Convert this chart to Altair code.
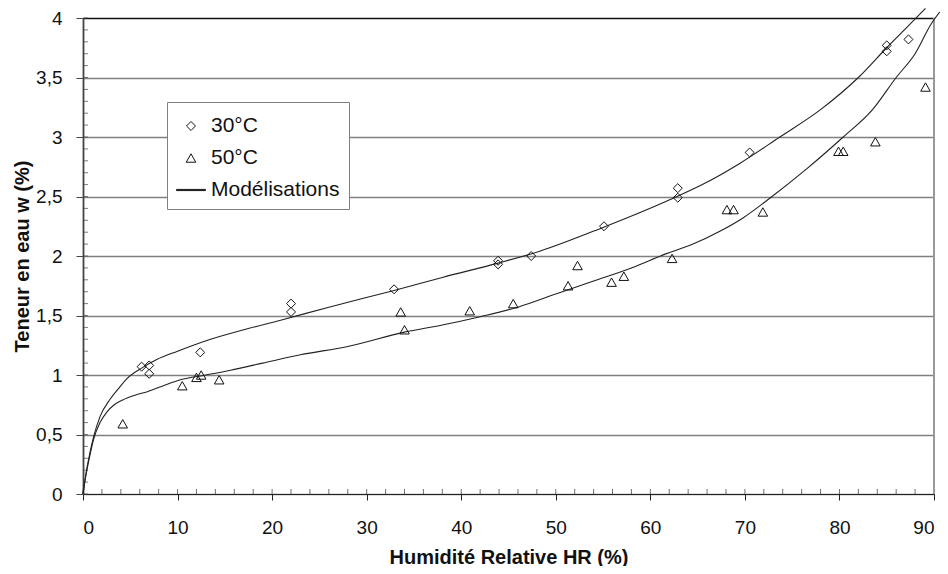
import altair as alt
import pandas as pd

# ---- data ----
hr_30 = [6.2, 7.0, 7.0, 12.4, 22.0, 22.0, 32.9, 43.9, 43.9, 47.4, 55.1, 62.9, 62.9, 70.5, 85.0, 85.0, 87.3]
w_30 = [1.07, 1.08, 1.01, 1.19, 1.60, 1.53, 1.72, 1.96, 1.93, 2.00, 2.25, 2.57, 2.49, 2.87, 3.77, 3.72, 3.82]

hr_50 = [4.2, 10.5, 12.0, 12.5, 14.4, 33.6, 34.0, 40.9, 45.5, 51.3, 52.3, 55.9, 57.2, 62.3,
         68.1, 68.8, 71.9, 79.9, 80.4, 83.8, 89.1]
w_50 = [0.59, 0.91, 0.98, 1.00, 0.96, 1.53, 1.38, 1.54, 1.60, 1.75, 1.92, 1.78, 1.83, 1.98,
        2.39, 2.39, 2.37, 2.88, 2.88, 2.96, 3.42]

model_30_hr = [0, 0.25, 0.77, 1.12, 1.8, 2.9, 3.9, 4.65, 6.24, 7.8, 10, 13.1, 17, 20.9, 26, 32.9,
               38, 43.9, 48.3, 55, 61.7, 65.5, 69.5, 73.7, 78, 82, 85, 87, 89.1]
model_30_w = [0, 0.14, 0.36, 0.48, 0.65, 0.80, 0.9, 0.97, 1.06, 1.13, 1.2, 1.29, 1.38, 1.46, 1.57, 1.71,
              1.82, 1.94, 2.04, 2.24, 2.46, 2.6, 2.78, 3.0, 3.23, 3.5, 3.75, 3.91, 4.08]

model_50_hr = [0, 0.25, 0.77, 1.12, 1.8, 2.54, 3.3, 4.2, 5.5, 6.8, 8.5, 10.3, 13, 15.6, 19, 23, 28, 34,
               38, 42, 46, 50, 54, 58, 61.7, 64.5, 67.4, 69.8, 72.7, 76.5, 80.4, 83.5, 86, 88, 89.7, 90.6]
model_50_w = [0, 0.13, 0.34, 0.46, 0.6, 0.69, 0.75, 0.79, 0.83, 0.86, 0.91, 0.96, 1.0, 1.04, 1.1, 1.17, 1.24, 1.36,
              1.42, 1.49, 1.57, 1.68, 1.79, 1.9, 2.02, 2.1, 2.21, 2.32, 2.49, 2.73, 3.0, 3.23, 3.5, 3.7, 3.95, 4.05]

legend_labels = ["30°C", "50°C", "Modélisations"]
x_major = list(range(0, 91, 10))
x_minor = list(range(0, 91, 2))
y_major = [0, 0.5, 1, 1.5, 2, 2.5, 3, 3.5, 4]
y_minor = [round(i * 0.1, 1) for i in range(0, 41)]

# ---- tables ----
points = pd.DataFrame({
    "hr": hr_30 + hr_50,
    "w": w_30 + w_50,
    "serie": [legend_labels[0]] * len(hr_30) + [legend_labels[1]] * len(hr_50),
})
curves = pd.DataFrame({
    "hr": model_30_hr + model_50_hr,
    "w": model_30_w + model_50_w,
    "curve": ["30"] * len(model_30_hr) + ["50"] * len(model_50_hr),
    "order": list(range(len(model_30_hr))) + list(range(len(model_50_hr))),
})
xminor_df = pd.DataFrame({"hr": x_minor})
yminor_df = pd.DataFrame({"w": y_minor})
border_df = pd.DataFrame({"hr": [90]})

FONT = "Liberation Sans"
xscale = alt.Scale(domain=[0, 90], nice=False, zero=False)
yscale = alt.Scale(domain=[0, 4], nice=False, zero=False)

x_axis = alt.Axis(
    values=x_major, title="Humidité Relative HR (%)", grid=False,
    tickSize=6, tickColor="#222", domainColor="#222", domainWidth=1.2,
    labelPadding=18, titlePadding=10,
)
y_axis = alt.Axis(
    values=y_major, title="Teneur en eau w (%)", grid=True,
    gridColor={"condition": {"test": "datum.value === 4", "value": "#111"}, "value": "#808080"},
    gridWidth=1.4, tickSize=7, tickColor="#444", domainColor="#444", domainWidth=1.8,
    labelPadding=14, titlePadding=3,
    labelExpr="replace(format(datum.value, '~g'), '.', ',')",
)

shape_paths = [
    "M-0.31,0L0,-0.31L0.31,0L0,0.31Z",
    "M0,-0.29L0.33,0.29L-0.33,0.29Z",
    "M-1,-0.04L1,-0.04L1,0.04L-1,0.04Z",
]

lines = alt.Chart(curves).mark_line(
    interpolate="monotone", color="#222", strokeWidth=1.1
).encode(
    x=alt.X("hr:Q", scale=xscale, axis=x_axis),
    y=alt.Y("w:Q", scale=yscale, axis=y_axis),
    detail="curve:N",
    order="order:Q",
)

pts = alt.Chart(points).mark_point(
    filled=False, size=841, strokeWidth=1, color="#111", opacity=1
).encode(
    x=alt.X("hr:Q", scale=xscale, axis=x_axis),
    y=alt.Y("w:Q", scale=yscale, axis=y_axis),
    shape=alt.Shape(
        "serie:N",
        scale=alt.Scale(domain=legend_labels, range=shape_paths),
        legend=alt.Legend(
            title=None, orient="none", legendX=84, legendY=84,
            labelFont=FONT, labelFontSize=21, labelColor="#111",
            padding=9, rowPadding=7, labelOffset=5,
            strokeColor="#808080", fillColor="white",
            symbolSize=841, symbolStrokeColor="#111", symbolStrokeWidth=1,
            symbolFillColor="transparent",
        ),
    ),
)

xticks = alt.Chart(xminor_df).mark_tick(
    orient="vertical", size=5, thickness=1, yOffset=-2.5, color="#333"
).encode(
    x=alt.X("hr:Q", scale=xscale, axis=x_axis),
    y=alt.Y(datum=0, scale=yscale, axis=y_axis),
)

yticks = alt.Chart(yminor_df).mark_tick(
    orient="horizontal", size=5, thickness=1, xOffset=2.5, color="#444"
).encode(
    x=alt.X(datum=0, scale=xscale, axis=x_axis),
    y=alt.Y("w:Q", scale=yscale, axis=y_axis),
)

border = alt.Chart(border_df).mark_rule(
    color="#999", strokeWidth=2
).encode(
    x=alt.X("hr:Q", scale=xscale, axis=x_axis),
    y=alt.Y(datum=0, scale=yscale, axis=y_axis),
    y2=alt.Y2(datum=4),
)

chart = alt.layer(xticks, yticks, border, lines, pts).properties(
    width=851, height=476,
    autosize=alt.AutoSizeParams(type="none"),
    padding={"left": 75, "top": 10, "right": 6, "bottom": 72},
).configure_view(
    strokeWidth=0
).configure_axis(
    labelFont=FONT, labelFontSize=19, labelColor="#111",
    titleFont=FONT, titleFontSize=20, titleFontWeight="bold", titleColor="#111",
)

chart.save("out.html", embed_options={"renderer": "svg", "actions": False})
